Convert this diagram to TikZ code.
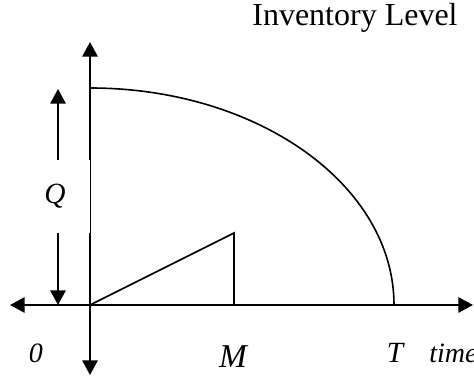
\documentclass[tikz,border=0pt]{standalone}
\usepackage{fontspec}
\setmainfont{Liberation Serif}
\usetikzlibrary{arrows.meta}
\begin{document}
\begin{tikzpicture}[x=0.75pt, y=0.75pt,
  axis/.style={line width=1.5pt, -{Triangle[width=11.5pt,length=11pt]}},
  curve/.style={line width=1.2pt},
  lbl/.style={font=\fontsize{22}{26}\selectfont\itshape, inner sep=0pt, anchor=base}]
\useasboundingbox (-90,-76) rectangle (384,305);
% axes
\coordinate (o) at (0,0);
\coordinate (top) at (0,263);
\coordinate (bottom) at (0,-70);
\coordinate (left) at (-80,0);
\coordinate (right) at (383,0);
\draw[axis] (o) -- (top);
\draw[axis] (o) -- (bottom);
\draw[axis] (o) -- (left);
\draw[axis] (o) -- (right);
% inventory curves
\coordinate (q0) at (0,217);
\coordinate (tend) at (304,0);
\coordinate (peak) at (144,72);
\coordinate (mfoot) at (144,0);
\draw[curve] (q0) arc[start angle=90, end angle=0, x radius=304, y radius=217];
\draw[curve] (o) -- (peak) -- (mfoot);
% Q arrows
\coordinate (qa) at (-32,144);
\coordinate (qb) at (-32,216);
\coordinate (qc) at (-32,72);
\coordinate (qd) at (-32,0);
\draw[axis] (qa) -- (qb);
\draw[axis] (qc) -- (qd);
\node[fill=white, inner sep=0pt, minimum width=52.5pt, minimum height=54.75pt,
  font=\fontsize{22}{26}\selectfont\itshape] (q) at (-35,108.5) {\raisebox{3pt}{Q}};
% labels
\node[anchor=base, inner sep=0pt, font=\fontsize{24}{28}\selectfont] (inv) at (265,279) {Inventory Level};
\node[lbl, font=\fontsize{21}{25}\selectfont\itshape] (zero) at (-54,-58) {0};
\node[lbl, font=\fontsize{25}{29}\selectfont\itshape] (m) at (143,-63) {M};
\node[lbl] (t) at (305,-58) {T};
\node[lbl, anchor=base west, font=\fontsize{21}{25}\selectfont\itshape] (time) at (339,-58) {time};
\end{tikzpicture}
\end{document}
